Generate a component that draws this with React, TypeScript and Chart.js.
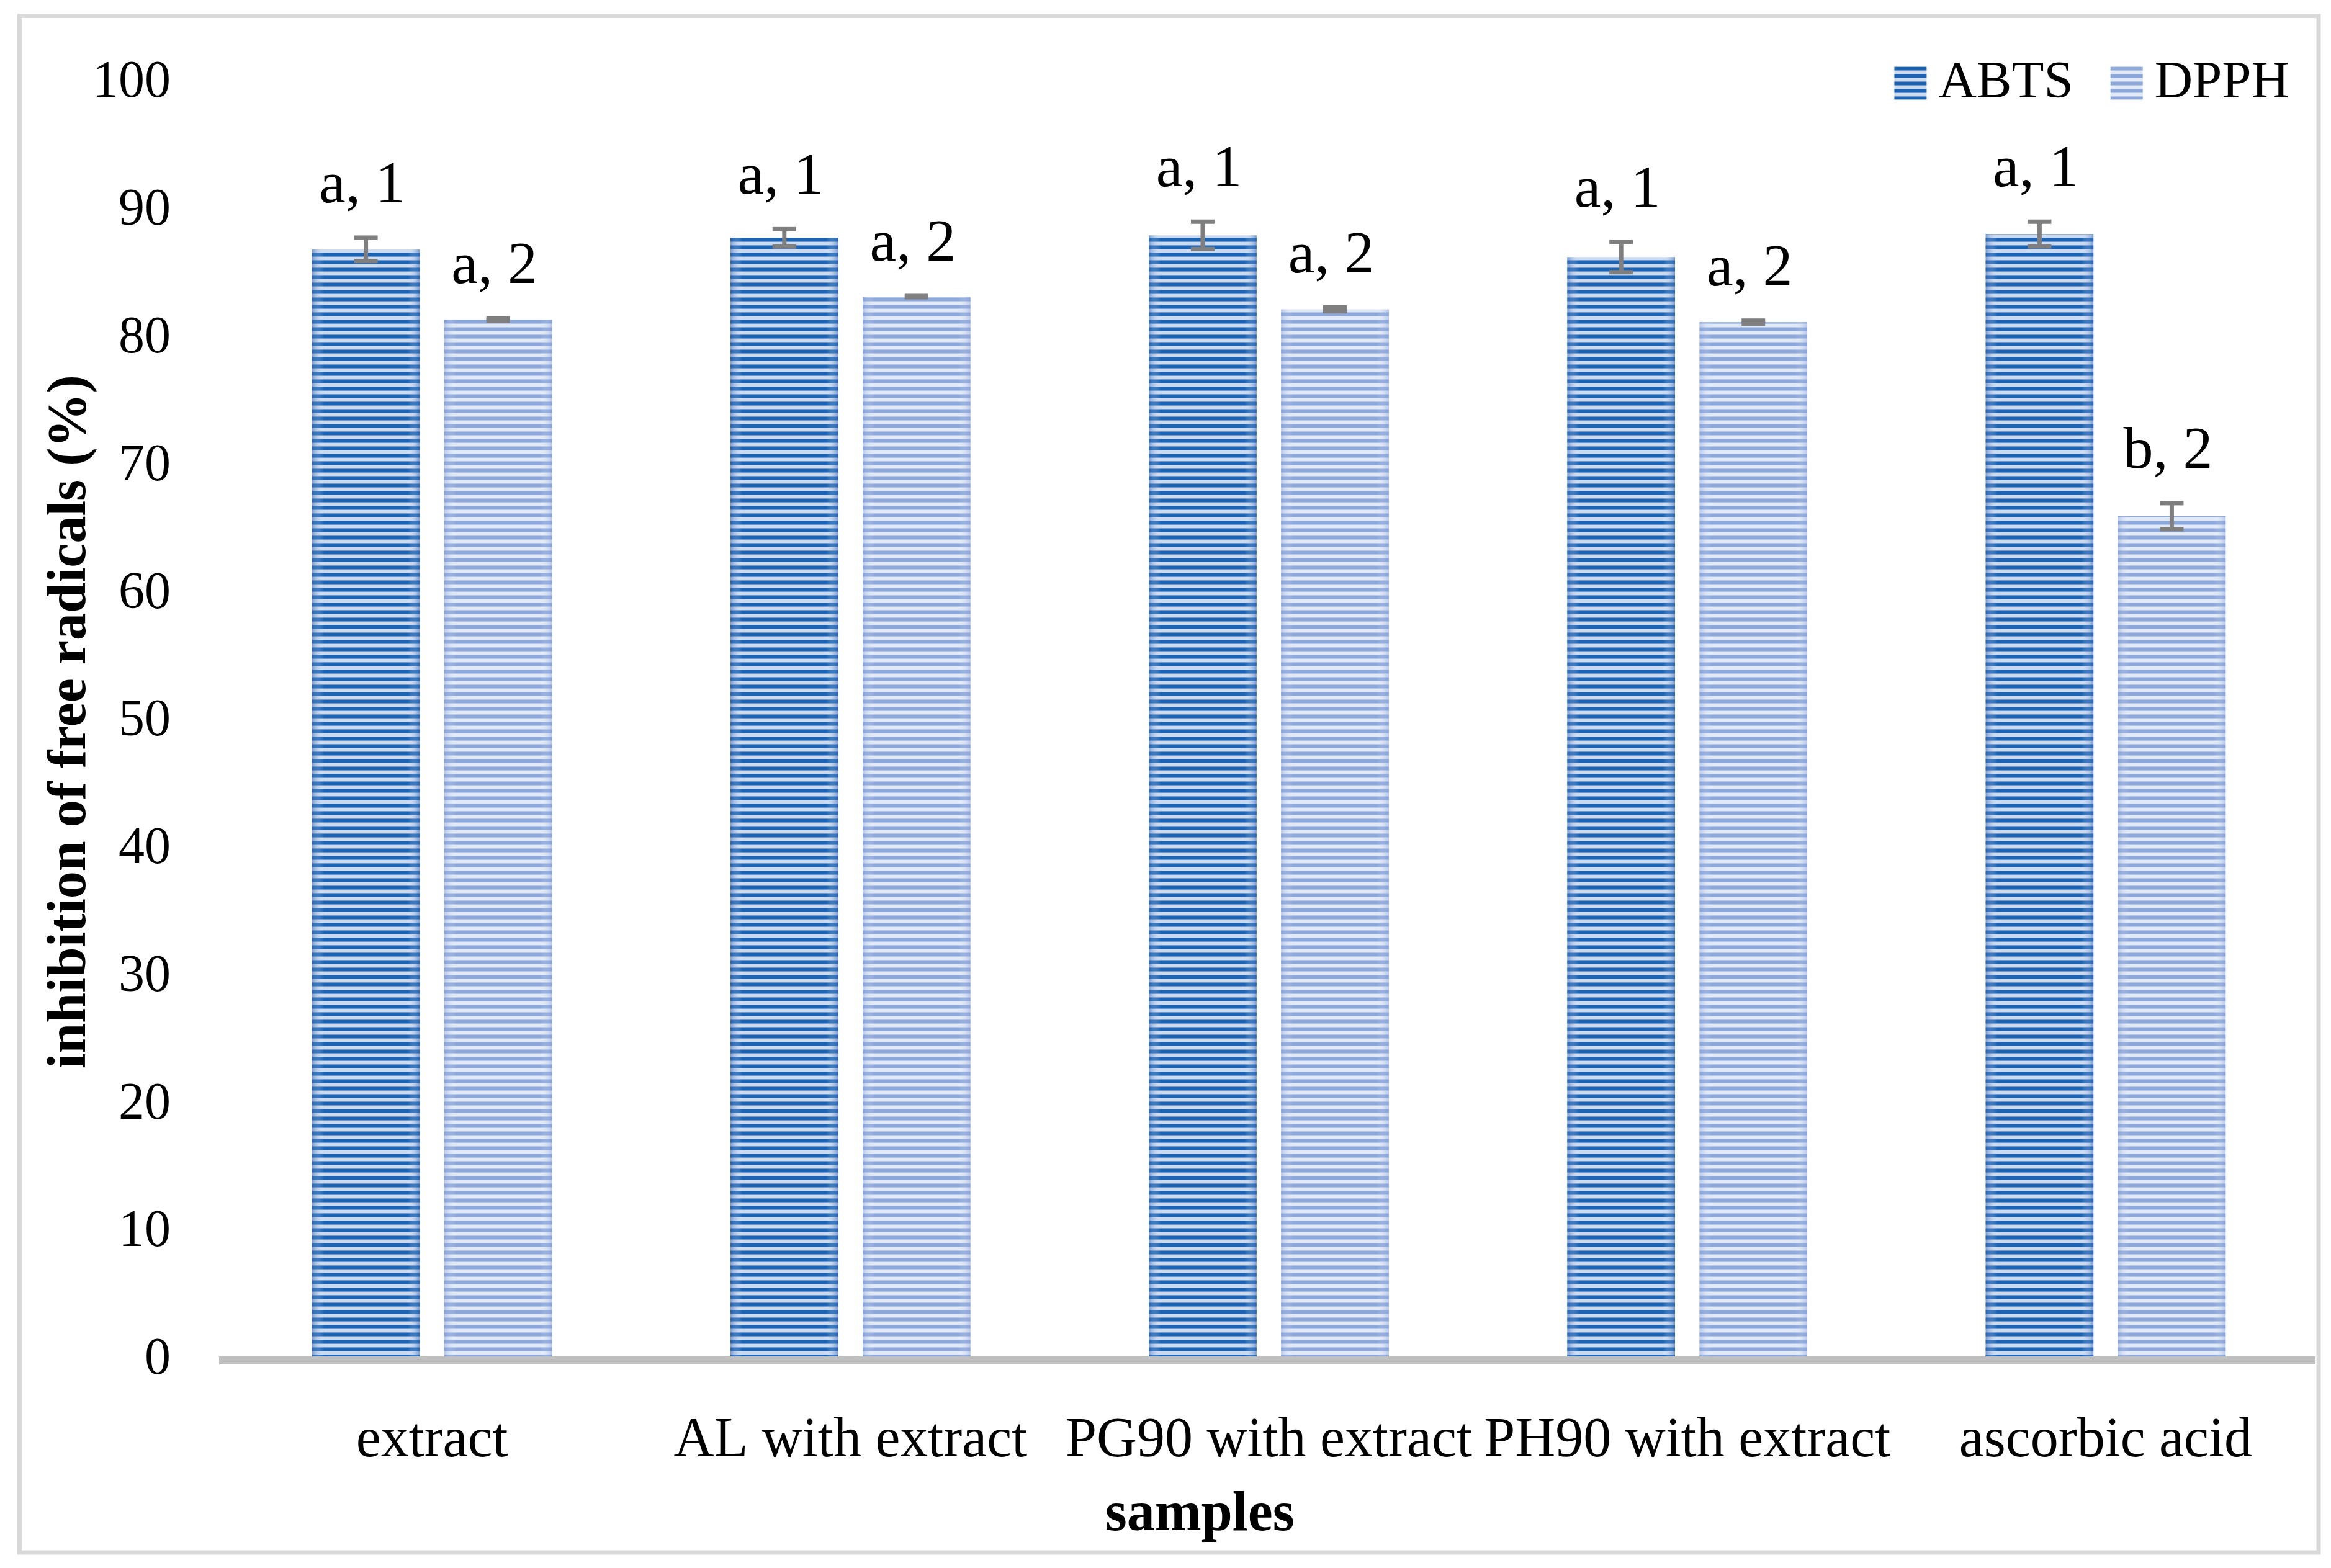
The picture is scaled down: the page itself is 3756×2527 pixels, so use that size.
import React, { useEffect, useRef } from 'react';
import { Chart, registerables } from 'chart.js';

Chart.register(...registerables);

const categories = ['extract', 'AL with extract', 'PG90 with extract', 'PH90 with extract', 'ascorbic acid'];
const seriesNames = ['ABTS', 'DPPH'];
const abtsValues = [87.0, 87.9, 88.1, 86.4, 88.2];
const dpphValues = [81.5, 83.3, 82.3, 81.3, 66.1];
const abtsErrors = [0.92, 0.68, 1.07, 1.19, 0.97];
const dpphErrors = [0.1, 0.05, 0.15, 0.12, 1.02];
const abtsLabels = ['a, 1', 'a, 1', 'a, 1', 'a, 1', 'a, 1'];
const dpphLabels = ['a, 2', 'a, 2', 'a, 2', 'a, 2', 'b, 2'];
const yMin = 0;
const yMax = 100;
const yStep = 10;
const xTitle = 'samples';
const yTitle = 'inhibition of free radicals (%)';

const FAMILY = "'Liberation Serif', 'Times New Roman', serif";

function makeStripes(dark: string, mid: string, light: string): CanvasPattern | string {
  const c = document.createElement('canvas');
  c.width = 8;
  c.height = 12;
  const g = c.getContext('2d');
  if (!g) return dark;
  g.fillStyle = light;
  g.fillRect(0, 0, 8, 12);
  g.fillStyle = dark;
  g.fillRect(0, 0, 8, 5);
  g.fillStyle = mid;
  g.fillRect(0, 5, 8, 1);
  g.fillRect(0, 11, 8, 1);
  const p = g.createPattern(c, 'repeat');
  return p || dark;
}

export default function App() {
  const ref = useRef<HTMLCanvasElement | null>(null);

  useEffect(() => {
    document.body.style.margin = '0';
    const canvas = ref.current;
    if (!canvas) return;

    const abtsFill = makeStripes('#1B64B4', '#6E98CF', '#CCDAF0');
    const dpphFill = makeStripes('#8CA7DA', '#B5C7E9', '#E2E9F6');
    const fills = [abtsFill, dpphFill];
    const edgeColors = ['rgba(45,100,180,0.55)', 'rgba(125,155,215,0.45)'];
    const errors = [abtsErrors, dpphErrors];
    const letters = [abtsLabels, dpphLabels];

    const framePlugin = {
      id: 'frame',
      beforeDraw(chart: any) {
        const ctx = chart.ctx;
        ctx.save();
        ctx.fillStyle = '#FFFFFF';
        ctx.fillRect(0, 0, chart.width, chart.height);
        ctx.strokeStyle = '#D9D9D9';
        ctx.lineWidth = 7;
        ctx.strokeRect(31.5, 25.5, chart.width - 20 - 31.5, chart.height - 25 - 25.5);
        ctx.restore();
      },
    };

    const barExtrasPlugin = {
      id: 'barExtras',
      afterDatasetsDraw(chart: any) {
        const ctx = chart.ctx;
        const yScale = chart.scales.y;
        ctx.save();
        chart.data.datasets.forEach((ds: any, di: number) => {
          const meta = chart.getDatasetMeta(di);
          meta.data.forEach((el: any) => {
            const p = el.getProps(['x', 'y', 'base', 'width'], true);
            const left = p.x - p.width / 2;
            const grad = ctx.createLinearGradient(left, 0, left + p.width, 0);
            grad.addColorStop(0, edgeColors[di]);
            grad.addColorStop(0.11, 'rgba(255,255,255,0)');
            grad.addColorStop(0.89, 'rgba(255,255,255,0)');
            grad.addColorStop(1, edgeColors[di]);
            ctx.fillStyle = grad;
            ctx.fillRect(left, p.y, p.width, p.base - p.y);
          });
        });
        ctx.strokeStyle = '#7F7F7F';
        ctx.fillStyle = '#7F7F7F';
        chart.data.datasets.forEach((ds: any, di: number) => {
          const meta = chart.getDatasetMeta(di);
          meta.data.forEach((el: any, i: number) => {
            const v = ds.data[i];
            const e = errors[di][i];
            const yt = yScale.getPixelForValue(v + e);
            const yb = yScale.getPixelForValue(v - e);
            const x = el.x;
            ctx.lineWidth = 7;
            ctx.beginPath();
            ctx.moveTo(x, yt);
            ctx.lineTo(x, yb);
            ctx.stroke();
            ctx.fillRect(x - 19, yt - 3.5, 38, 7);
            ctx.fillRect(x - 19, yb - 3.5, 38, 7);
          });
        });
        ctx.fillStyle = '#000000';
        ctx.font = `96px ${FAMILY}`;
        ctx.textAlign = 'center';
        ctx.textBaseline = 'alphabetic';
        chart.data.datasets.forEach((ds: any, di: number) => {
          const meta = chart.getDatasetMeta(di);
          meta.data.forEach((el: any, i: number) => {
            const v = ds.data[i];
            const e = errors[di][i];
            const yt = yScale.getPixelForValue(v + e);
            ctx.fillText(letters[di][i], el.x - 6, yt - 57);
          });
        });
        ctx.restore();
      },
    };

    const legendPlugin = {
      id: 'refLegend',
      afterDraw(chart: any) {
        const ctx = chart.ctx;
        const area = chart.chartArea;
        ctx.save();
        ctx.font = `85px ${FAMILY}`;
        ctx.textAlign = 'left';
        ctx.textBaseline = 'alphabetic';
        const box = 52;
        const gapText = 19;
        const gapItems = 60;
        const widths = seriesNames.map((n) => ctx.measureText(n).width);
        let total = 0;
        widths.forEach((w, i) => {
          total += box + gapText + w + (i > 0 ? gapItems : 0);
        });
        let x = area.right - 41 - total;
        const boxTop = area.top - 27;
        const baseline = area.top + 23;
        seriesNames.forEach((n, i) => {
          ctx.fillStyle = fills[i];
          ctx.fillRect(x, boxTop, box, 53);
          ctx.fillStyle = '#000000';
          ctx.fillText(n, x + box + gapText, baseline);
          x += box + gapText + widths[i] + gapItems;
        });
        ctx.restore();
      },
    };

    const xTitlePlugin = {
      id: 'xTitleRef',
      afterDraw(chart: any) {
        const ctx = chart.ctx;
        const area = chart.chartArea;
        ctx.save();
        ctx.font = `bold 90px ${FAMILY}`;
        ctx.fillStyle = '#000000';
        ctx.textAlign = 'center';
        ctx.textBaseline = 'middle';
        ctx.fillText(xTitle, area.left + (area.right - area.left) * 0.467, chart.height - 84);
        ctx.restore();
      },
    };

    const chart = new Chart(canvas, {
      type: 'bar',
      data: {
        labels: categories,
        datasets: [
          {
            label: seriesNames[0],
            data: abtsValues,
            backgroundColor: abtsFill as any,
            borderWidth: 0,
            categoryPercentage: 0.632,
            barPercentage: 0.815,
          },
          {
            label: seriesNames[1],
            data: dpphValues,
            backgroundColor: dpphFill as any,
            borderWidth: 0,
            categoryPercentage: 0.632,
            barPercentage: 0.815,
          },
        ],
      },
      options: {
        responsive: false,
        animation: false,
        devicePixelRatio: 1,
        layout: { padding: { top: 127, right: 26, left: 0, bottom: 0 } },
        plugins: {
          legend: { display: false },
          tooltip: { enabled: false },
          title: { display: false },
        },
        scales: {
          x: {
            grid: { display: false, drawTicks: false },
            border: { display: true, color: '#BFBFBF', width: 13, z: 1 },
            ticks: {
              font: { family: FAMILY, size: 90 },
              color: '#000000',
              padding: 77,
              autoSkip: false,
              maxRotation: 0,
              minRotation: 0,
            },
            afterFit: (s: any) => {
              s.height = 335;
            },
          },
          y: {
            min: yMin,
            max: yMax,
            grid: { display: false, drawTicks: false },
            border: { display: false },
            ticks: {
              stepSize: yStep,
              font: { family: FAMILY, size: 84 },
              color: '#000000',
              padding: 84,
            },
            title: {
              display: true,
              text: yTitle,
              font: { family: FAMILY, size: 88, weight: 'bold' },
              color: '#000000',
              padding: { top: 61, bottom: 0 },
            },
            afterFit: (s: any) => {
              s.width = 359;
            },
          },
        },
      },
      plugins: [framePlugin, barExtrasPlugin, legendPlugin, xTitlePlugin],
    } as any);

    return () => {
      chart.destroy();
    };
  }, []);

  return (
    <canvas
      ref={ref}
      width={3756}
      height={2527}
      style={{ display: 'block', width: '3756px', height: '2527px' }}
    />
  );
}
